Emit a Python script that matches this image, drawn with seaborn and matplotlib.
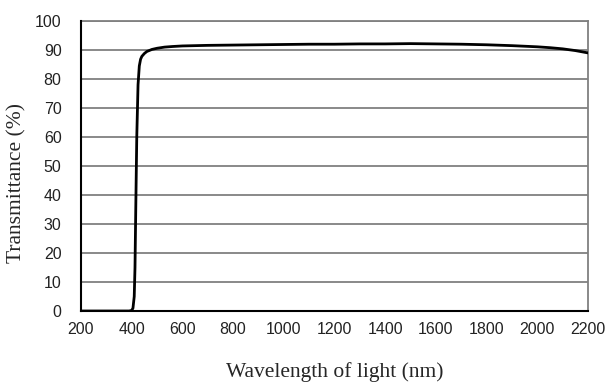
import matplotlib
matplotlib.use("Agg")
import matplotlib.pyplot as plt
import seaborn as sns
import pandas as pd

# Transmittance spectrum
wavelength = [200, 250, 300, 350, 390, 400, 405, 410, 413, 416, 420, 425, 430, 435, 440,
              450, 460, 480, 500, 530, 560, 600, 700, 800, 900, 1000, 1100, 1200, 1300,
              1400, 1500, 1600, 1700, 1800, 1900, 2000, 2050, 2100, 2150, 2200]
transmittance = [0.0, 0.0, 0.0, 0.0, 0.0, 0.2, 1.0, 5.0, 15.0, 35.0, 60.0, 78.0, 84.5, 86.8, 87.8,
                 88.8, 89.5, 90.2, 90.6, 91.0, 91.2, 91.4, 91.6, 91.7, 91.8, 91.9, 92.0, 92.0, 92.1,
                 92.1, 92.2, 92.1, 92.0, 91.8, 91.5, 91.1, 90.8, 90.4, 89.8, 89.0]

x_ticks = list(range(200, 2201, 200))
y_ticks = list(range(0, 101, 10))

df = pd.DataFrame({"wavelength": wavelength, "transmittance": transmittance})

sns.set_theme(style="white")
plt.rcParams["font.family"] = ["Liberation Sans", "DejaVu Sans"]

fig = plt.figure(figsize=(6.06, 3.83), dpi=100)
ax = fig.add_axes([81 / 606, 72 / 383, (588 - 81) / 606, (311 - 21) / 383])

for y in y_ticks[1:]:
    ax.axhline(y, color="#808080", lw=1.3, zorder=1)

sns.lineplot(data=df, x="wavelength", y="transmittance", ax=ax,
             color="black", lw=2.0, zorder=3)

ax.set_xlim(200, 2200)
ax.set_ylim(0, 100)
ax.set_xticks(x_ticks)
ax.set_yticks(y_ticks)
ax.tick_params(axis="x", direction="in", length=5, width=1, color="black",
               labelsize=11.5, pad=8, labelcolor="#222222")
ax.tick_params(axis="y", length=0, labelsize=11.5, pad=14, labelcolor="#222222")

for side in ["left", "bottom"]:
    ax.spines[side].set_color("black")
    ax.spines[side].set_linewidth(1.5)
    ax.spines[side].set_zorder(4)
for side in ["top", "right"]:
    ax.spines[side].set_color("#808080")
    ax.spines[side].set_linewidth(1.3)

ax.set_xlabel("Wavelength of light (nm)", family=["Liberation Serif"], fontsize=15.5)
ax.set_ylabel("Transmittance (%)", family=["Liberation Serif"], fontsize=15.5)
ax.xaxis.set_label_coords(0.5, -0.175)
ax.yaxis.set_label_coords(-0.108, 0.44)

fig.savefig("out.png", dpi=100)
